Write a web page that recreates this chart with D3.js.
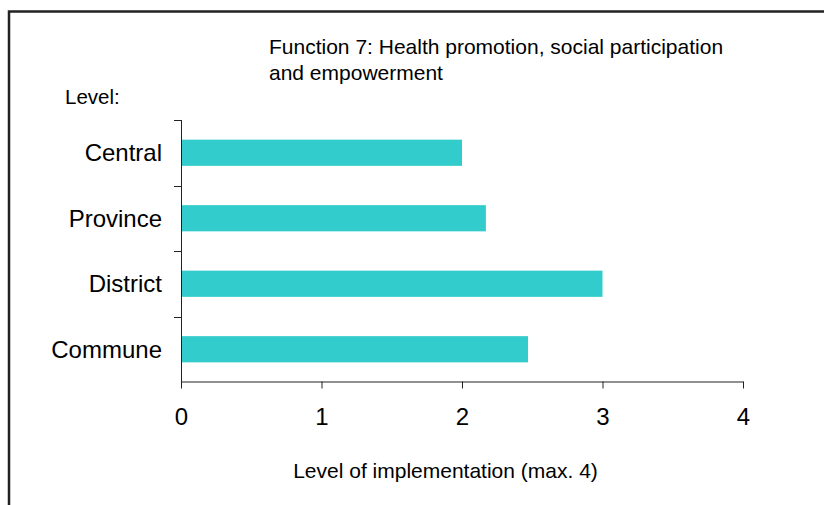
<!DOCTYPE html>
<html>
<head>
<meta charset="utf-8">
<script src="https://cdn.jsdelivr.net/npm/d3@7"></script>
<style>
  html, body { margin: 0; padding: 0; background: #fff; }
  svg { display: block; font-family: "Liberation Sans", Arial, sans-serif; }
</style>
</head>
<body>
<svg id="chart" width="824" height="505"></svg>
<script>
// Implementation level per health-system tier
const levels = ["Central", "Province", "District", "Commune"];
const scores = [2.0, 2.17, 3.0, 2.47];
const xTicks = [0, 1, 2, 3, 4];
const titleLines = ["Function 7: Health promotion, social participation", "and empowerment"];
const yAxisLabel = "Level:";
const xAxisLabel = "Level of implementation (max. 4)";

const svg = d3.select("#chart");

// outer frame (left and top edges)
svg.append("path")
  .attr("d", "M9,505 V11.5 H824")
  .attr("fill", "none")
  .attr("stroke", "#222")
  .attr("stroke-width", 2.5);

const x = d3.scaleLinear().domain([0, 4]).range([181, 743]);
const y = d3.scaleBand().domain(levels).range([120, 382]).paddingInner(0.6).paddingOuter(0.3);

// bars
svg.append("g").selectAll("rect")
  .data(levels)
  .enter().append("rect")
  .attr("x", x(0))
  .attr("y", d => y(d))
  .attr("width", (d, i) => x(scores[i]) - x(0))
  .attr("height", y.bandwidth())
  .attr("fill", "#33CCCC");

// x axis
const xAxis = svg.append("g")
  .attr("transform", "translate(0,381.5)")
  .call(d3.axisBottom(x).tickValues(xTicks).tickFormat(d3.format("d"))
    .tickSize(7).tickSizeOuter(0).tickPadding(19));
xAxis.select(".domain").attr("stroke", "#222");
xAxis.selectAll(".tick line").attr("stroke", "#222");
xAxis.selectAll(".tick text")
  .attr("font-size", 24)
  .attr("font-family", "Liberation Sans, Arial, sans-serif")
  .attr("fill", "#000");

// y axis: line with ticks on category boundaries
const yLine = svg.append("g");
yLine.append("line")
  .attr("x1", x(0) + 0.5).attr("x2", x(0) + 0.5)
  .attr("y1", y.range()[0]).attr("y2", y.range()[1])
  .attr("stroke", "#222");
const boundaries = levels.map(d => y(d) - y.step() * y.paddingInner() / 2 - (d === levels[0] ? y.step() * (y.paddingOuter() - y.paddingInner() / 2) : 0));
yLine.selectAll("line.tk")
  .data(boundaries)
  .enter().append("line")
  .attr("class", "tk")
  .attr("x1", x(0) - 7).attr("x2", x(0) + 0.5)
  .attr("y1", d => Math.round(d) + 0.5).attr("y2", d => Math.round(d) + 0.5)
  .attr("stroke", "#222");

// category labels
svg.append("g").selectAll("text")
  .data(levels)
  .enter().append("text")
  .attr("x", 162)
  .attr("y", d => y(d) + y.bandwidth() / 2)
  .attr("dy", "0.35em")
  .attr("text-anchor", "end")
  .attr("font-size", 24)
  .attr("fill", "#000")
  .text(d => d);

// title
svg.append("text")
  .attr("x", 269)
  .attr("font-size", 21)
  .attr("fill", "#000")
  .selectAll("tspan")
  .data(titleLines)
  .enter().append("tspan")
  .attr("x", 269)
  .attr("y", (d, i) => 54 + i * 26)
  .text(d => d);

// axis captions
svg.append("text")
  .attr("x", 65).attr("y", 104)
  .attr("font-size", 20.5)
  .attr("fill", "#000")
  .text(yAxisLabel);

svg.append("text")
  .attr("x", 445.5).attr("y", 478)
  .attr("text-anchor", "middle")
  .attr("font-size", 21)
  .attr("fill", "#000")
  .text(xAxisLabel);
</script>
</body>
</html>
